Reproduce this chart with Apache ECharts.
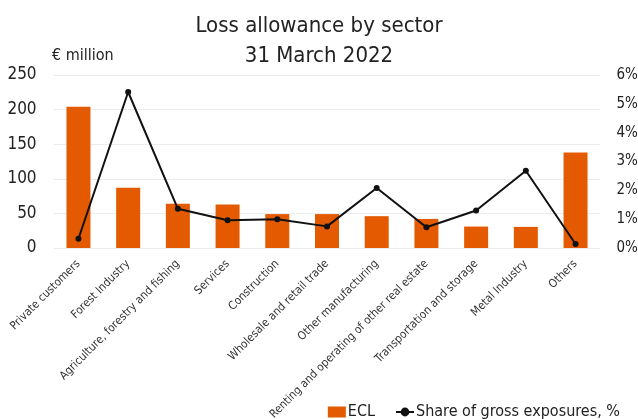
<!DOCTYPE html>
<html>
<head>
<meta charset="utf-8">
<script src="https://cdn.jsdelivr.net/npm/echarts@6/dist/echarts.min.js"></script>
<style>
  html, body { margin: 0; padding: 0; background: #fff; }
  #chart { width: 638px; height: 419px; }
</style>
</head>
<body>
<div id="chart"></div>
<script>
// Sector breakdown of the loss allowance
const sectors = [
  'Private customers', 'Forest Industry', 'Agriculture, forestry and fishing',
  'Services', 'Construction', 'Wholesale and retail trade', 'Other manufacturing',
  'Renting and operating of other real estate', 'Transportation and storage',
  'Metal Industry', 'Others'
];
// ECL, EUR million
const eclValues = [204, 87, 64, 63, 49, 49, 46, 42, 31, 30.5, 138];
// Share of gross exposures, %
const shareValues = [0.32, 5.41, 1.36, 0.96, 1.0, 0.75, 2.08, 0.72, 1.3, 2.68, 0.14];
const leftTicks = [0, 50, 100, 150, 200, 250];
const rightTicks = [0, 1, 2, 3, 4, 5, 6];

const FONT = '"DejaVu Sans Condensed", "DejaVu Sans", sans-serif';
const TEXT = '#222';
const ORANGE = '#e35a00';

const chart = echarts.init(document.getElementById('chart'));
chart.setOption({
  animation: false,
  textStyle: { fontFamily: FONT },
  title: [
    {
      text: 'Loss allowance by sector\n31 March 2022',
      left: 'center',
      top: 6,
      textStyle: { fontFamily: FONT, fontWeight: 'normal', fontSize: 22, lineHeight: 30, color: TEXT }
    },
    {
      text: '€ million',
      left: 47,
      top: 43,
      textStyle: { fontFamily: FONT, fontWeight: 'normal', fontSize: 16, color: TEXT }
    }
  ],
  legend: {
    right: 13,
    top: 399,
    itemGap: 20,
    itemWidth: 18,
    itemHeight: 11,
    textStyle: { fontFamily: FONT, fontSize: 16, color: TEXT, padding: [0, 0, 0, -3] },
    data: [
      { name: 'ECL', icon: 'rect' },
      { name: 'Share of gross exposures, %' }
    ]
  },
  grid: {
    left: 53.6, right: 37.6, top: 75, bottom: 171,
    containLabel: false,
    outerBoundsMode: 'none'
  },
  xAxis: {
    type: 'category',
    data: sectors,
    axisLine: { show: false },
    axisTick: { show: false },
    axisLabel: {
      interval: 0,
      rotate: 45,
      margin: 14,
      fontSize: 11.5,
      color: '#333',
      fontFamily: FONT
    }
  },
  yAxis: [
    {
      type: 'value',
      min: leftTicks[0],
      max: leftTicks[leftTicks.length - 1],
      interval: 50,
      axisLine: { show: false },
      axisTick: { show: false },
      splitLine: { lineStyle: { color: '#ececec', width: 1 } },
      axisLabel: { margin: 17, fontSize: 17, color: TEXT, fontFamily: FONT }
    },
    {
      type: 'value',
      min: rightTicks[0],
      max: rightTicks[rightTicks.length - 1],
      interval: 1,
      position: 'right',
      axisLine: { show: false },
      axisTick: { show: false },
      splitLine: { show: false },
      axisLabel: { margin: 16, fontSize: 15, color: TEXT, fontFamily: FONT, formatter: '{value}%' }
    }
  ],
  series: [
    {
      name: 'ECL',
      type: 'bar',
      data: eclValues,
      barWidth: 24,
      itemStyle: { color: ORANGE }
    },
    {
      name: 'Share of gross exposures, %',
      type: 'line',
      yAxisIndex: 1,
      data: shareValues,
      symbol: 'circle',
      symbolSize: 6,
      showAllSymbol: true,
      lineStyle: { color: '#111', width: 2 },
      itemStyle: { color: '#111' }
    }
  ]
});
</script>
</body>
</html>
